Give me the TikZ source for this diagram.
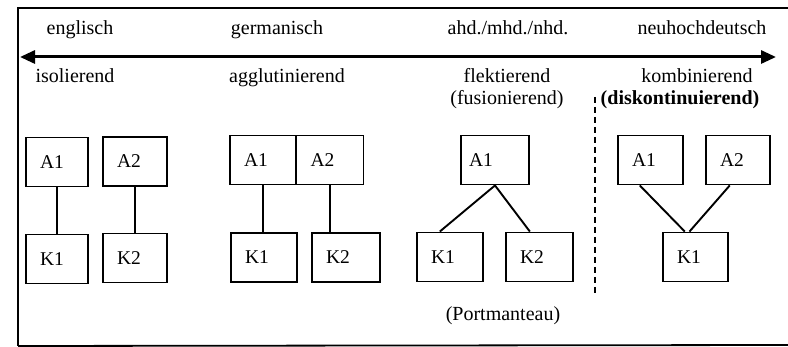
\documentclass[tikz,border=0pt]{standalone}
\usepackage{fontspec}
\setmainfont{Liberation Serif}
\usetikzlibrary{arrows.meta,calc}
\begin{document}
\begin{tikzpicture}[x=1pt,y=-1pt,
  lbl/.style={anchor=base, inner sep=0pt, font=\fontsize{20}{24}\selectfont},
  box/.style={draw, line width=1.9pt, minimum height=49pt, inner ysep=0pt,
    inner xsep=14pt, text width=37pt, align=left, font=\fontsize{19.5}{23}\selectfont},
  conn/.style={line width=1.9pt},
  frame/.style={line width=1.8pt}]
\useasboundingbox (0,0) rectangle (788,347);
% frame
\coordinate (ftl) at (18,8);
\coordinate (ftr) at (788,8);
\coordinate (fbl) at (18,346);
\coordinate (fbr) at (788,345);
\draw[frame] (ftr) -- (ftl) -- (fbl);
\draw[frame] (fbl) -- (fbr);
% axis arrow
\coordinate (al) at (20,57);
\coordinate (ar) at (776,57);
\draw[line width=3pt, {Triangle[length=15pt,width=13pt]}-{Triangle[length=15pt,width=13pt]}] (al) -- (ar);
% top labels
\node[lbl] (l1) at (80,35) {englisch};
\node[lbl] (l2) at (277,35) {germanisch};
\node[lbl] (l3) at (508,35) {ahd./mhd./nhd.};
\node[lbl] (l4) at (702,35) {neuhochdeutsch};
\node[lbl] (t1) at (75,83) {isolierend};
\node[lbl] (t2) at (287,83) {agglutinierend};
\node[lbl] (t3) at (507,83) {flektierend};
\node[lbl] (t3b) at (507,105) {(fusionierend)};
\node[lbl] (t4) at (697,83) {kombinierend};
\node[lbl, font=\fontsize{20}{24}\selectfont\bfseries] (t4b) at (680,105) {(diskontinuierend)};
\node[lbl] (pm) at (503,321) {(Portmanteau)};
% dashed separator
\coordinate (d1) at (595,97);
\coordinate (d2) at (595,296);
\draw[line width=2.2pt, dash pattern=on 6pt off 4pt] (d1) -- (d2);
% isolierend
\node[box, text width=34pt] (iA1) at (57,162) {A1};
\node[box, text width=36pt] (iA2) at (135,161.5) {A2};
\node[box, text width=34pt] (iK1) at (57,259) {K1};
\node[box, text width=36pt] (iK2) at (135,258) {K2};
\draw[conn] (iA1) -- (iK1);
\draw[conn] (iA2) -- (iK2);
% agglutinierend
\node[box, text width=38pt] (gA1) at (263,160) {A1};
\node[box, text width=39pt] (gA2) at (330,160) {A2};
\node[box, text width=38pt] (gK1) at (264,257.5) {K1};
\node[box, text width=40pt] (gK2) at (346,257.5) {K2};
\draw[conn] (gA1.south) -- (gA1.south |- gK1.north);
\draw[conn] (gA2.south) -- (gA2.south |- gK2.north);
% flektierend
\node[box, inner xsep=8pt, text width=52pt] (fA1) at (495,160) {A1};
\node[box, text width=38pt] (fK1) at (450,257) {K1};
\node[box, text width=39pt] (fK2) at (539.5,257) {K2};
\draw[conn] ($(fK1.north west)!0.35!(fK1.north east)$) -- (fA1.south) -- ($(fK2.north west)!0.36!(fK2.north east)$);
% kombinierend
\node[box] (kA1) at (650.5,160) {A1};
\node[box, text width=36pt] (kA2) at (738,160) {A2};
\node[box] (kK1) at (695.5,257) {K1};
\draw[conn] ($(kA1.south west)!0.34!(kA1.south east)$) -- ($(kK1.north west)!0.34!(kK1.north east)$);
\draw[conn] ($(kA2.south west)!0.375!(kA2.south east)$) -- ($(kK1.north west)!0.41!(kK1.north east)$);
\end{tikzpicture}
\end{document}
